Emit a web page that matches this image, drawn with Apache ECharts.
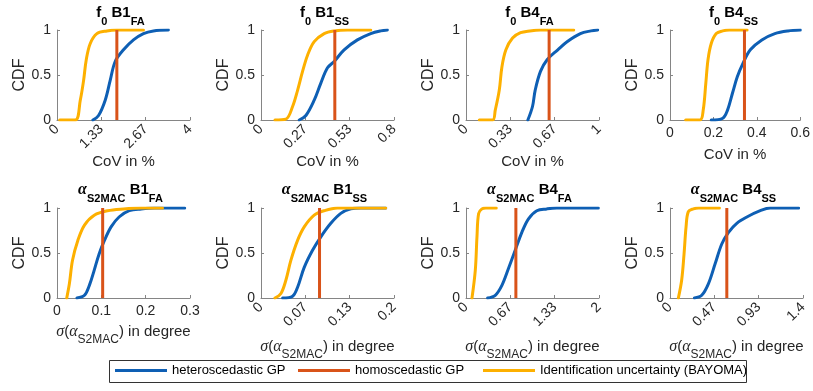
<!DOCTYPE html>
<html>
<head>
<meta charset="UTF-8">
<title></title>
<script src="https://cdn.jsdelivr.net/npm/echarts@6/dist/echarts.min.js"></script>
<style>
    html, body { margin: 0; padding: 0; background: #fff; }
    #main { width: 813px; height: 391px; }
</style>
</head>
<body>
<div id="main"></div>
<script>
// [x, CDF] points
var f0B1FA_hetero = [[1.08,0],[1.25,0.05],[1.45,0.22],[1.6,0.44],[1.75,0.65],[2.0,0.78],[2.3,0.89],[2.6,0.96],[2.9,0.99],[3.35,1]];
var f0B1FA_bayoma = [[0.08,0],[0.55,0],[0.7,0.22],[0.8,0.44],[0.88,0.67],[1.0,0.85],[1.2,0.96],[1.5,0.99],[1.8,1],[2.6,1]];
var f0B1SS_hetero = [[0.23,0],[0.27,0.05],[0.32,0.22],[0.36,0.41],[0.40,0.58],[0.44,0.65],[0.50,0.78],[0.58,0.89],[0.66,0.96],[0.72,0.99],[0.76,1]];
var f0B1SS_bayoma = [[0.084,0],[0.15,0.01],[0.19,0.15],[0.22,0.33],[0.25,0.54],[0.28,0.72],[0.32,0.87],[0.38,0.96],[0.44,0.99],[0.52,1],[0.66,1]];
var f0B4FA_hetero = [[0.465,0],[0.50,0.15],[0.52,0.33],[0.56,0.54],[0.61,0.67],[0.69,0.78],[0.76,0.87],[0.86,0.96],[0.94,0.99],[0.99,1]];
var f0B4FA_bayoma = [[0.10,0],[0.20,0],[0.22,0.11],[0.25,0.33],[0.27,0.59],[0.30,0.78],[0.35,0.91],[0.41,0.97],[0.48,0.99],[0.56,1],[0.81,1]];
var f0B4SS_hetero = [[0.19,0],[0.243,0.02],[0.265,0.11],[0.288,0.30],[0.31,0.48],[0.336,0.63],[0.37,0.78],[0.423,0.89],[0.483,0.96],[0.543,0.99],[0.6,1]];
var f0B4SS_bayoma = [[0.072,0],[0.138,0],[0.153,0.11],[0.165,0.41],[0.175,0.67],[0.19,0.85],[0.213,0.96],[0.243,0.99],[0.273,1],[0.355,1]];
var aB1FA_hetero = [[0.045,0],[0.062,0.03],[0.073,0.14],[0.084,0.31],[0.095,0.49],[0.107,0.64],[0.122,0.79],[0.14,0.9],[0.163,0.97],[0.19,0.99],[0.22,1],[0.288,1]];
var aB1FA_bayoma = [[0.022,0],[0.028,0.16],[0.035,0.42],[0.047,0.64],[0.062,0.81],[0.084,0.92],[0.114,0.97],[0.15,0.99],[0.19,1],[0.238,1]];
var aB1SS_hetero = [[0.0325,0],[0.0475,0.02],[0.055,0.12],[0.065,0.34],[0.0775,0.53],[0.09,0.68],[0.105,0.83],[0.12,0.94],[0.135,0.99],[0.15,1],[0.1875,1]];
var aB1SS_bayoma = [[0.021,0],[0.03,0.05],[0.0375,0.2],[0.045,0.42],[0.055,0.64],[0.065,0.79],[0.08,0.92],[0.095,0.97],[0.115,1],[0.1875,1]];
var aB4FA_hetero = [[0.325,0],[0.44,0.03],[0.54,0.14],[0.64,0.33],[0.74,0.53],[0.84,0.73],[0.94,0.88],[1.065,0.97],[1.215,0.99],[1.365,1],[1.99,1]];
var aB4FA_bayoma = [[0.09,0],[0.14,0.31],[0.165,0.68],[0.19,0.94],[0.24,0.99],[0.3,1],[0.455,1]];
var aB4SS_hetero = [[0.257,0],[0.334,0.03],[0.405,0.16],[0.475,0.38],[0.545,0.6],[0.616,0.73],[0.703,0.83],[0.809,0.9],[0.95,0.97],[1.055,1],[1.354,1]];
var aB4SS_bayoma = [[0.088,0],[0.123,0.2],[0.148,0.49],[0.169,0.79],[0.193,0.96],[0.246,0.99],[0.3,1],[0.52,1]];

// homoscedastic GP value per panel (vertical line)
var homoValues = [1.8, 0.444, 0.625, 0.343, 0.103, 0.088, 0.75, 0.598];

var heteroSets = [f0B1FA_hetero, f0B1SS_hetero, f0B4FA_hetero, f0B4SS_hetero, aB1FA_hetero, aB1SS_hetero, aB4FA_hetero, aB4SS_hetero];
var bayomaSets = [f0B1FA_bayoma, f0B1SS_bayoma, f0B4FA_bayoma, f0B4SS_bayoma, aB1FA_bayoma, aB1SS_bayoma, aB4FA_bayoma, aB4SS_bayoma];

var xTickValues = [
    [0, 1.33333, 2.66667, 4],
    [0, 0.266667, 0.533333, 0.8],
    [0, 0.333333, 0.666667, 1],
    [0, 0.2, 0.4, 0.6],
    [0, 0.1, 0.2, 0.3],
    [0, 0.0666667, 0.133333, 0.2],
    [0, 0.666667, 1.33333, 2],
    [0, 0.466667, 0.933333, 1.4]
];
var xTickLabels = [
    ['0', '1.33', '2.67', '4'],
    ['0', '0.27', '0.53', '0.8'],
    ['0', '0.33', '0.67', '1'],
    ['0', '0.2', '0.4', '0.6'],
    ['0', '0.1', '0.2', '0.3'],
    ['0', '0.07', '0.13', '0.2'],
    ['0', '0.67', '1.33', '2'],
    ['0', '0.47', '0.93', '1.4']
];
var rotated = [true, true, true, false, false, true, true, true];
var panelNames = ['B1', 'B1', 'B4', 'B4', 'B1', 'B1', 'B4', 'B4'];
var panelSubs = ['FA', 'SS', 'FA', 'SS', 'FA', 'SS', 'FA', 'SS'];

var seriesNames = ['heteroscedastic GP', 'homoscedastic GP', 'Identification uncertainty (BAYOMA)'];
var colBlue = '#0e5fb4', colRed = '#d95319', colYel = '#fdb000';

var sans = 'Liberation Sans, Arial, sans-serif';
var serif = 'Liberation Serif, Times New Roman, serif';
var txt = '#262626';
var axisCol = '#858585';

var lefts = [57, 261, 466, 670];
var tops = [30, 208];
var gw = 133, gh = 90;

var grids = [], xAxes = [], yAxes = [], titles = [], series = [];

for (var i = 0; i < 8; i++) {
    var row = i < 4 ? 0 : 1;
    var col = i % 4;
    grids.push({ left: lefts[col], top: tops[row], width: gw, height: gh });

    var titleText = row === 0
        ? '{b|f}{s|0}{b| ' + panelNames[i] + '}{s|' + panelSubs[i] + '}'
        : '{g|α}{s|S2MAC}{b| ' + panelNames[i] + '}{s|' + panelSubs[i] + '}';
    titles.push({
        text: titleText,
        left: lefts[col] + gw / 2 - 3,
        top: row === 0 ? 5 : 182,
        textAlign: 'center',
        padding: 0,
        textStyle: {
            rich: {
                b: { fontFamily: sans, fontWeight: 'bold', fontSize: 15, color: '#000', padding: [0, 0, 9, 0] },
                s: { fontFamily: sans, fontWeight: 'bold', fontSize: 11, color: '#000', padding: [9, 0, 0, 0] },
                g: { fontFamily: serif, fontStyle: 'italic', fontSize: 16, color: '#000', padding: [0, 0, 9, 0] }
            }
        }
    });

    (function (idx) {
        var rot = rotated[idx];
        xAxes.push({
            gridIndex: idx,
            type: 'value',
            min: 0,
            max: xTickValues[idx][3],
            name: row === 0 ? 'CoV in %' : '{g|σ}{n|(}{g|α}{s|S2MAC}{n|) in degree}',
            nameLocation: 'middle',
            nameGap: row === 0 ? (rot ? 28 : 27) : (rot ? 41 : 26),
            nameTextStyle: row === 0 ? { fontFamily: sans, fontSize: 15, color: txt } : {
                rich: {
                    n: { fontFamily: sans, fontSize: 15, color: txt, padding: [0, 0, 8, 0] },
                    g: { fontFamily: serif, fontStyle: 'italic', fontSize: 16, color: txt, padding: [0, 0, 8, 0] },
                    s: { fontFamily: sans, fontSize: 12, color: txt, padding: [8, 0, 0, 0] }
                }
            },
            axisLine: { show: true, onZero: false, lineStyle: { color: axisCol, width: 1 } },
            axisTick: { show: true, inside: true, length: 3, customValues: xTickValues[idx], lineStyle: { color: axisCol } },
            splitLine: { show: false },
            axisLabel: {
                customValues: xTickValues[idx],
                rotate: rot ? 45 : 0,
                margin: rot ? 7 : 6,
                fontFamily: sans,
                fontSize: 14,
                color: txt,
                showMinLabel: true,
                showMaxLabel: true,
                formatter: function (v) {
                    var t = xTickValues[idx];
                    for (var k = 0; k < t.length; k++) {
                        if (Math.abs(v - t[k]) < 1e-4) return xTickLabels[idx][k];
                    }
                    return '';
                }
            }
        });
    })(i);

    yAxes.push({
        gridIndex: i,
        type: 'value',
        min: 0,
        max: 1,
        interval: 0.5,
        name: 'CDF',
        nameLocation: 'middle',
        nameGap: 28,
        nameTextStyle: { fontFamily: sans, fontSize: 16, color: txt },
        axisLine: { show: true, lineStyle: { color: axisCol, width: 1 } },
        axisTick: { show: true, inside: true, length: 3, lineStyle: { color: axisCol } },
        splitLine: { show: false },
        axisLabel: {
            fontFamily: sans, fontSize: 14, color: txt, margin: 6,
            formatter: function (v) { return String(v); }
        }
    });

    series.push({
        name: seriesNames[0], type: 'line', xAxisIndex: i, yAxisIndex: i,
        data: heteroSets[i], smooth: 0.35, showSymbol: false, symbol: 'none',
        lineStyle: { color: colBlue, width: 3, join: 'round', cap: 'round' }, itemStyle: { color: colBlue }, z: 2, silent: true
    });
    series.push({
        name: seriesNames[2], type: 'line', xAxisIndex: i, yAxisIndex: i,
        data: bayomaSets[i], smooth: 0.35, showSymbol: false, symbol: 'none',
        lineStyle: { color: colYel, width: 3, join: 'round', cap: 'round' }, itemStyle: { color: colYel }, z: 3, silent: true
    });
    series.push({
        name: seriesNames[1], type: 'line', xAxisIndex: i, yAxisIndex: i,
        data: [[homoValues[i], 0], [homoValues[i], 1]], showSymbol: false, symbol: 'none',
        lineStyle: { color: colRed, width: 3 }, itemStyle: { color: colRed }, z: 4, silent: true
    });
}

var legendBase = {
    top: 364, padding: 0, icon: 'rect', itemWidth: 52, itemHeight: 3,
    textStyle: { fontFamily: sans, fontSize: 13, color: '#000' },
    selectedMode: false
};
var legends = [
    Object.assign({}, legendBase, { left: 115, data: [seriesNames[0]] }),
    Object.assign({}, legendBase, { left: 298, data: [seriesNames[1]] }),
    Object.assign({}, legendBase, { left: 483, data: [seriesNames[2]] })
];

var myChart = echarts.init(document.getElementById('main'));
myChart.setOption({
    animation: false,
    backgroundColor: '#fff',
    title: titles,
    grid: grids,
    xAxis: xAxes,
    yAxis: yAxes,
    legend: legends,
    graphic: [{
        type: 'rect',
        shape: { x: 109.5, y: 360.5, width: 637, height: 22 },
        style: { fill: 'none', stroke: '#333', lineWidth: 1 },
        silent: true
    }],
    series: series
});
</script>
</body>
</html>
